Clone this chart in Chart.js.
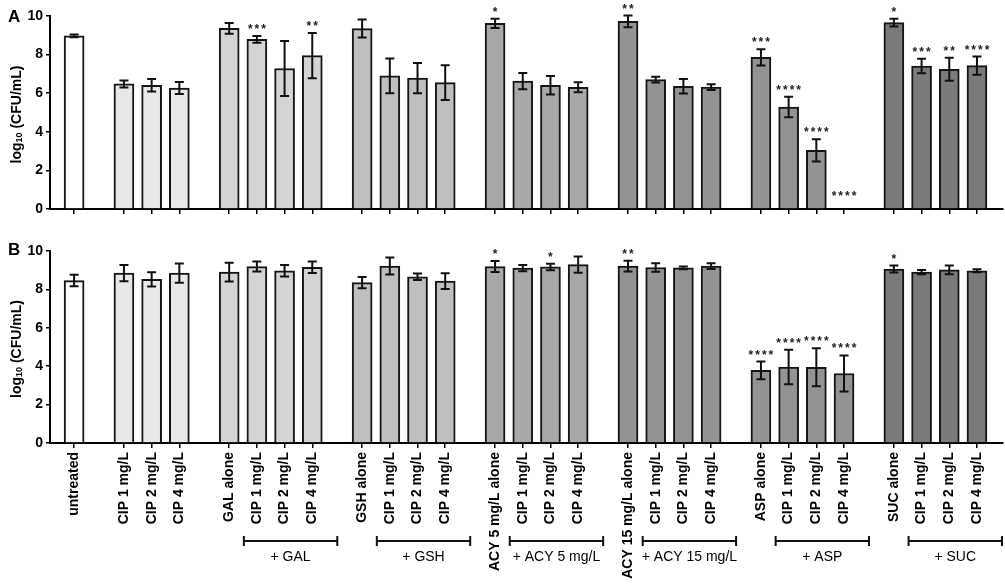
<!DOCTYPE html>
<html><head><meta charset="utf-8">
<script src="https://cdn.jsdelivr.net/npm/chart.js@4.4.1/dist/chart.umd.min.js"></script>
<style>
html,body{margin:0;padding:0;background:#fff;}
#wrap{position:relative;width:1005px;height:585px;overflow:hidden;background:#fff;}
#a{position:absolute;left:0;top:0;}
#b{position:absolute;left:0;top:230px;}
</style></head><body>
<div id="wrap">
<canvas id="a" width="1005" height="222"></canvas>
<canvas id="b" width="1005" height="355"></canvas>
</div>
<script>
// ---------- data ----------
const categories = [
  'untreated',
  'CIP 1 mg/L','CIP 2 mg/L','CIP 4 mg/L',
  'GAL alone','CIP 1 mg/L','CIP 2 mg/L','CIP 4 mg/L',
  'GSH alone','CIP 1 mg/L','CIP 2 mg/L','CIP 4 mg/L',
  'ACY 5 mg/L alone','CIP 1 mg/L','CIP 2 mg/L','CIP 4 mg/L',
  'ACY 15 mg/L alone','CIP 1 mg/L','CIP 2 mg/L','CIP 4 mg/L',
  'ASP alone','CIP 1 mg/L','CIP 2 mg/L','CIP 4 mg/L',
  'SUC alone','CIP 1 mg/L','CIP 2 mg/L','CIP 4 mg/L'
];
const groupOf = [0,1,1,1,2,2,2,2,3,3,3,3,4,4,4,4,5,5,5,5,6,6,6,6,7,7,7,7];
const groupLabels = [null,null,'+ GAL','+ GSH','+ ACY 5 mg/L','+ ACY 15 mg/L','+ ASP','+ SUC'];
const groupColors = ['#ffffff','#e8e8e8','#d4d4d4','#bfbfbf','#a8a8a8','#939393','#939393','#7a7a7a'];
const yTicks = [0,2,4,6,8,10];

const meansA = [8.97, 6.48,6.41,6.27, 9.36,8.79,7.28,7.95, 9.35,6.90,6.78,6.55,
                9.62,6.63,6.41,6.31, 9.72,6.70,6.36,6.32, 7.86,5.28,3.04,0, 9.66,7.41,7.24,7.43];
const errA   = [0.07, 0.18,0.32,0.31, 0.28,0.17,1.42,1.17, 0.47,0.90,0.78,0.90,
                0.24,0.42,0.48,0.26, 0.30,0.15,0.38,0.15, 0.42,0.53,0.58,0, 0.20,0.37,0.60,0.47];
const starsA = ['', '','','', '','***','','**', '','','','',
                '*','','','', '**','','','', '***','****','****','****', '*','***','**','****'];

const meansB = [8.46, 8.85,8.52,8.85, 8.90,9.19,8.97,9.15, 8.35,9.22,8.66,8.43,
                9.19,9.11,9.17,9.29, 9.21,9.14,9.12,9.21, 3.78,3.96,3.94,3.62, 9.06,8.90,9.02,8.97];
const errB   = [0.30, 0.42,0.37,0.50, 0.49,0.26,0.30,0.30, 0.29,0.44,0.17,0.41,
                0.29,0.16,0.17,0.42, 0.28,0.22,0.07,0.15, 0.46,0.90,0.99,0.94, 0.18,0.11,0.23,0.08];
const starsB = ['', '','','', '','','','', '','','','',
                '*','','*','', '**','','','', '****','****','****','****', '*','','',''];

// ---------- layout helpers ----------
const GROUP_GAP = 0.8;                       // extra space between groups (in bar units)
const positions = categories.map((c, i) => i + groupOf[i] * GROUP_GAP);
const FONT = '"Liberation Sans", Arial, Helvetica, sans-serif';
Chart.defaults.font.family = FONT;
Chart.defaults.color = '#000';

const overlay = {
  id: 'overlay',
  afterDatasetsDraw(chart, args, o) {
    const {ctx, chartArea} = chart;
    const x = chart.scales.x, y = chart.scales.y;
    ctx.save();
    // error bars
    ctx.strokeStyle = '#111'; ctx.lineWidth = 2; ctx.lineCap = 'butt';
    positions.forEach((p, i) => {
      const e = o.errs[i]; if (!e) return;
      const px = x.getPixelForValue(p);
      const yt = y.getPixelForValue(o.means[i] + e), yb = y.getPixelForValue(o.means[i] - e);
      ctx.beginPath();
      ctx.moveTo(px, yt); ctx.lineTo(px, yb);
      ctx.moveTo(px - 4.5, yt); ctx.lineTo(px + 4.5, yt);
      ctx.moveTo(px - 4.5, yb); ctx.lineTo(px + 4.5, yb);
      ctx.stroke();
    });
    // significance stars
    ctx.fillStyle = '#222'; ctx.font = 'bold 12px ' + FONT;
    ctx.textAlign = 'center'; ctx.textBaseline = 'alphabetic';
    ctx.letterSpacing = '2px';
    positions.forEach((p, i) => {
      const s = o.stars[i]; if (!s) return;
      const px = x.getPixelForValue(p);
      const yy = Math.min(y.getPixelForValue(o.means[i] + o.errs[i]) - 3, y.getPixelForValue(0) - 9);
      ctx.fillText(s, px + 1, yy);
    });
    ctx.letterSpacing = '0px';
    // panel letter
    ctx.fillStyle = '#000'; ctx.font = 'bold 17px ' + FONT; ctx.textAlign = 'left';
    ctx.fillText(o.letter, 8, o.letterY);
    // y-axis title with subscript
    const cy = (chartArea.top + chartArea.bottom) / 2 + 2;
    ctx.translate(17, cy); ctx.rotate(-Math.PI / 2);
    ctx.textBaseline = 'middle';
    const f1 = 'bold 14px ' + FONT, f2 = 'bold 9px ' + FONT;
    ctx.font = f1; const w1 = ctx.measureText('log').width, w3 = ctx.measureText(' (CFU/mL)').width;
    ctx.font = f2; const w2 = ctx.measureText('10').width;
    let sx = -(w1 + w2 + w3) / 2;
    ctx.font = f1; ctx.fillText('log', sx, 0); sx += w1;
    ctx.font = f2; ctx.fillText('10', sx, 3); sx += w2;
    ctx.font = f1; ctx.fillText(' (CFU/mL)', sx, 0);
    ctx.restore();
    // group brackets
    if (o.brackets) {
      ctx.save();
      ctx.strokeStyle = '#111'; ctx.lineWidth = 2; ctx.fillStyle = '#000';
      ctx.font = '14px ' + FONT; ctx.textAlign = 'center'; ctx.textBaseline = 'middle';
      groupLabels.forEach((lab, g) => {
        if (!lab) return;
        const idx = groupOf.map((gg, i) => gg === g ? i : -1).filter(i => i >= 0);
        const l = x.getPixelForValue(positions[idx[1]]) - 13;
        const r = x.getPixelForValue(positions[idx[idx.length - 1]]) + 25;
        const by = o.bracketY;
        ctx.beginPath();
        ctx.moveTo(l, by); ctx.lineTo(r, by);
        ctx.moveTo(l, by - 5); ctx.lineTo(l, by + 5);
        ctx.moveTo(r, by - 5); ctx.lineTo(r, by + 5);
        ctx.stroke();
        ctx.fillText(lab, (l + r) / 2, by + 16);
      });
      ctx.restore();
    }
  }
};

function makeChart(id, means, errs, stars, showLabels, padTop, xHeight, letter, letterY) {
  return new Chart(document.getElementById(id), {
    type: 'bar',
    data: {
      datasets: [{
        data: positions.map((p, i) => ({x: p, y: means[i]})),
        backgroundColor: positions.map((p, i) => groupColors[groupOf[i]]),
        borderColor: '#151515',
        borderWidth: 2,
        barThickness: 20
      }]
    },
    options: {
      responsive: false,
      animation: false,
      events: [],
      layout: {padding: {top: padTop, right: 2, left: 0, bottom: 0}},
      plugins: {
        legend: {display: false}, tooltip: {enabled: false},
        overlay: {means, errs, stars, letter, letterY, brackets: showLabels, bracketY: 311}
      },
      scales: {
        x: {
          type: 'linear', min: -0.87, max: 33.54, offset: false,
          afterBuildTicks: s => { s.ticks = positions.map(v => ({value: v})); },
          afterFit: s => { s.height = xHeight; },
          grid: {display: true, offset: false, drawOnChartArea: false, drawTicks: true, tickLength: 5, color: '#000', lineWidth: 1.5},
          border: {display: true, color: '#000', width: 2},
          ticks: {
            display: showLabels, autoSkip: false, maxRotation: 90, minRotation: 90, padding: 4,
            color: '#000', font: {size: 14, weight: 'bold'},
            callback: (v, i) => categories[i]
          }
        },
        y: {
          min: 0, max: 10,
          afterBuildTicks: s => { s.ticks = yTicks.map(v => ({value: v})); },
          afterFit: s => { s.width = 50; },
          grid: {display: true, offset: false, drawOnChartArea: false, drawTicks: true, tickLength: 4, color: '#000', lineWidth: 1.5},
          border: {display: true, color: '#000', width: 2},
          ticks: {color: '#000', padding: 3, font: {size: 14, weight: 'bold'}}
        }
      }
    },
    plugins: [overlay]
  });
}

makeChart('a', meansA, errA, starsA, false, 16, 13, 'A', 22);
makeChart('b', meansB, errB, starsB, true, 21, 142, 'B', 25);
</script>
</body></html>
